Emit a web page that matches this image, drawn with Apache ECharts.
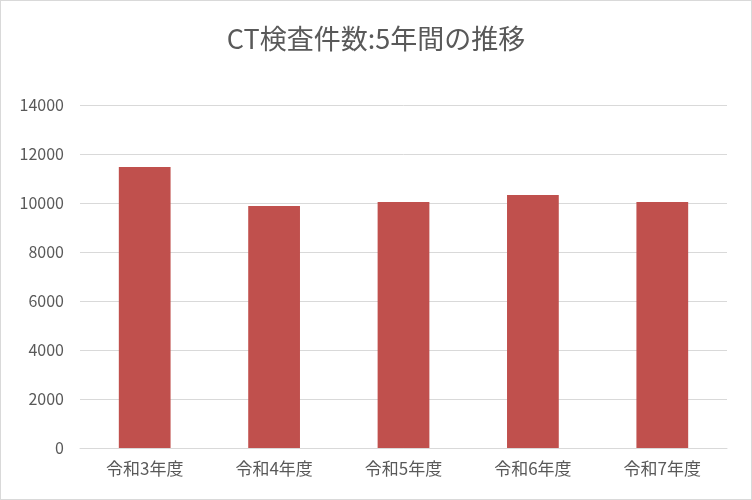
<!DOCTYPE html>
<html><head><meta charset="utf-8">
<script src="https://cdn.jsdelivr.net/npm/echarts@6/dist/echarts.min.js"></script>
<style>
html,body{margin:0;padding:0;background:#fff;}
#c{width:750px;height:498px;border:1px solid #d9d9d9;}
</style></head>
<body><div id="c"></div>
<script>
const titleText = 'CT検査件数:5年間の推移';
const categories = ['令和3年度','令和4年度','令和5年度','令和6年度','令和7年度'];
const ctCounts = [11470, 9880, 10040, 10330, 10040];
const yTicks = [0, 2000, 4000, 6000, 8000, 10000, 12000, 14000];

const chart = echarts.init(document.getElementById('c'));
const font = '"Noto Sans CJK JP", "Noto Sans", sans-serif';
chart.setOption({
  animation: false,
  backgroundColor: '#fff',
  title: {
    text: titleText, left: 'center', top: 19,
    textStyle: {fontFamily: font, fontSize: 27, fontWeight: 'normal', color: '#595959'}
  },
  grid: {left: 79, right: 24, top: 104, bottom: 51},
  xAxis: {
    type: 'category', data: categories,
    axisLine: {lineStyle: {color: '#d9d9d9', width: 1}},
    axisTick: {show: false},
    axisLabel: {fontFamily: font, fontSize: 17, color: '#595959', margin: 12}
  },
  yAxis: {
    type: 'value', min: yTicks[0], max: yTicks[yTicks.length-1], interval: 2000,
    axisLine: {show: false}, axisTick: {show: false},
    splitLine: {lineStyle: {color: '#d9d9d9', width: 1}},
    axisLabel: {fontFamily: font, fontSize: 16, color: '#595959', margin: 16,
      formatter: v => String(v)}
  },
  series: [{
    type: 'bar', data: ctCounts, barWidth: '40%',
    itemStyle: {color: '#c0504d'}
  }]
});
</script></body></html>
